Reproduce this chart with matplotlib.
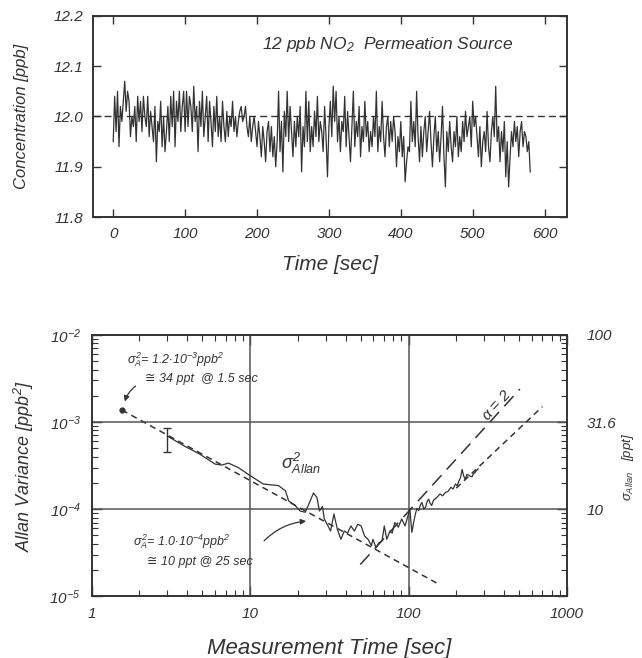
import numpy as np
import matplotlib
matplotlib.use("Agg")
import matplotlib.pyplot as plt
from matplotlib.ticker import FixedLocator, NullLocator, LogLocator, FuncFormatter

plt.rcParams['font.family'] = ['Liberation Sans', 'DejaVu Sans']
plt.rcParams['font.style'] = 'italic'
plt.rcParams['mathtext.fontset'] = 'custom'
plt.rcParams['mathtext.it'] = 'Liberation Sans:italic'
plt.rcParams['mathtext.rm'] = 'Liberation Sans:italic'
plt.rcParams['mathtext.default'] = 'it'

INK = '#333333'

# top panel: concentration record, one reading every 2 s
conc = [
    11.95, 12.04, 11.97, 12.05, 11.94, 12.02, 11.99, 12.03, 12.07, 12.01,
    12.05, 12.03, 11.96, 12.00, 11.98, 12.02, 11.95, 12.04, 11.99, 12.03,
    11.97, 12.04, 12.00, 11.98, 12.04, 11.96, 12.01, 11.98, 11.95, 12.02,
    11.91, 11.99, 11.97, 12.03, 11.94, 12.00, 11.93, 11.97, 12.02, 11.95,
    12.04, 11.98, 12.05, 11.94, 12.03, 11.99, 12.05, 11.97, 12.02, 12.05,
    11.97, 12.05, 11.98, 12.04, 12.02, 11.97, 12.06, 11.99, 12.02, 11.93,
    12.03, 11.98, 12.05, 11.96, 12.00, 12.04, 11.95, 12.03, 11.99, 11.94,
    12.02, 11.97, 12.04, 11.96, 12.00, 11.95, 12.03, 11.98, 11.95, 12.01,
    11.96, 12.00, 11.98, 12.03, 11.97, 12.00, 11.96, 11.99, 12.01, 12.02,
    11.99, 12.00, 12.02, 11.98, 11.96, 12.00, 11.95, 11.98, 12.00, 11.97,
    11.94, 11.99, 11.96, 11.92, 11.98, 11.95, 11.91, 11.97, 11.99, 11.93,
    11.98, 11.92, 11.96, 11.90, 11.95, 12.05, 11.93, 11.99, 11.89, 12.01,
    11.96, 12.05, 11.95, 12.02, 11.97, 11.92, 11.99, 11.94, 12.00, 11.96,
    12.02, 11.89, 11.98, 11.94, 12.05, 11.95, 12.03, 11.93, 11.98, 11.94,
    12.01, 11.96, 12.04, 11.95, 11.99, 11.97, 11.93, 12.02, 11.96, 11.88,
    11.98, 12.03, 11.96, 12.06, 11.99, 12.05, 11.95, 12.00, 11.93, 11.99,
    11.97, 12.04, 11.94, 12.01, 11.96, 11.91, 11.98, 12.05, 11.94, 11.99,
    11.96, 12.02, 11.92, 11.98, 11.95, 12.03, 11.96, 11.99, 11.93, 11.97,
    11.94, 12.00, 11.96, 12.05, 11.93, 11.98, 11.95, 12.03, 11.96, 11.92,
    11.98, 12.00, 11.94, 11.99, 11.95, 12.00, 11.97, 11.90, 11.96, 11.93,
    11.99, 11.92, 11.96, 11.87, 11.91, 11.94, 11.93, 12.03, 11.95, 11.99,
    11.94, 12.05, 11.96, 11.91, 11.98, 11.92, 11.97, 12.00, 11.93, 11.97,
    12.01, 11.95, 11.90, 11.96, 12.00, 11.93, 11.97, 11.91, 11.96, 12.02,
    11.92, 11.86, 11.97, 11.93, 11.99, 11.94, 11.91, 11.97, 11.94, 12.00,
    11.92, 11.96, 11.93, 11.99, 11.95, 12.01, 11.96, 11.98, 12.00, 11.94,
    12.03, 11.98, 12.00, 11.96, 11.92, 11.98, 11.90, 11.95, 11.97, 11.93,
    12.01, 11.94, 11.91, 11.97, 12.00, 11.96, 12.06, 11.95, 11.98, 11.91,
    11.97, 11.93, 11.99, 11.88, 11.95, 11.86, 11.92, 11.97, 11.94, 11.99,
    11.95, 11.98, 11.92, 11.97, 11.99, 11.94, 11.97, 11.96, 11.93, 11.95,
    11.89,
]
t = np.arange(len(conc)) * 2.0
nominal = 12.0

# bottom panel: Allan variance vs averaging time
tau = [3.0, 3.8, 4.8, 6.0, 6.6, 7.3, 8.4, 10, 12.1, 15.1, 16.7, 17.5, 19.3,
       20.7, 22.3, 23.7, 25.1, 26.4, 27.4, 28.6, 29.4, 30.6, 32.2, 33.8,
       35.5, 37.4, 39.3, 41.2, 43.3, 45.5, 47.8, 50.2, 52.8, 55.5, 58.3,
       59.6, 62.4, 64.9, 68.0, 70.3, 72.9, 76.4, 78.8, 81.9, 86.3, 90.5,
       95.1, 100, 102, 105, 108, 110.5, 113, 116, 119, 121.6, 125, 128, 131,
       134, 137, 140, 144, 147, 152, 158, 164, 171, 178, 185, 191, 198, 203,
       208, 213, 218, 223, 228, 234, 240, 246, 252, 257, 262, 268, 275]
avar = [6.9e-4, 5.35e-4, 4.28e-4, 3.29e-4, 3.2e-4, 3.37e-4, 3.0e-4, 2.42e-4,
        1.94e-4, 1.86e-4, 1.62e-4, 1.24e-4, 1.09e-4, 9.5e-5, 9.2e-5, 1.19e-4,
        1.53e-4, 1.36e-4, 9.5e-5, 1.07e-4, 7.7e-5, 6.7e-5, 5.6e-5, 8.8e-5,
        5.9e-5, 4.5e-5, 5.6e-5, 5.3e-5, 6.4e-5, 5.6e-5, 6.7e-5, 6.4e-5,
        4.9e-5, 4.5e-5, 3.8e-5, 4.5e-5, 3.6e-5, 4.1e-5, 4.3e-5, 6.4e-5,
        4.5e-5, 5.6e-5, 5.3e-5, 7.0e-5, 6.2e-5, 7.7e-5, 6.4e-5, 8.8e-5,
        1.0e-4, 5.4e-5, 7.2e-5, 8.8e-5, 1.02e-4, 9.6e-5, 1.12e-4, 1.19e-4,
        1.0e-4, 1.05e-4, 1.22e-4, 1.3e-4, 1.16e-4, 1.1e-4, 1.27e-4, 1.3e-4,
        1.38e-4, 1.49e-4, 1.42e-4, 1.55e-4, 1.6e-4, 1.78e-4, 1.7e-4, 1.94e-4,
        1.85e-4, 2.1e-4, 2.3e-4, 2.85e-4, 2.4e-4, 2.2e-4, 2.5e-4, 2.45e-4,
        2.38e-4, 2.35e-4, 2.55e-4, 2.6e-4, 2.75e-4, 2.9e-4]
err_tau = 3.0
err_lo, err_hi = 4.5e-4, 8.6e-4

white_tau = [1.55, 150]
white_avar = [1.37e-3, 1.42e-5]
drift_tau = [49.6, 505]
drift_avar = [2.31e-5, 2.39e-3]
slope_tau = [200, 700]
slope_avar = [1.74e-4, 1.5e-3]
start_tau, start_avar = 1.55, 1.37e-3

right_ticks = [3.16, 10, 31.6, 100]
right_labels = ['3.16', '10', '31.6', '100']

fig = plt.figure(figsize=(6.42, 6.58), dpi=100)

# ---------------- top panel
ax1 = fig.add_axes([0.145, 0.670, 0.738, 0.306])
ax1.plot(t, conc, color=INK, lw=0.9)
ax1.axhline(nominal, color=INK, lw=1.0, ls=(0, (5, 3)))
ax1.set_xlim(-28, 631)
ax1.set_ylim(11.8, 12.2)
ax1.set_xticks(np.arange(0, 601, 100))
ax1.set_yticks([11.8, 11.9, 12.0, 12.1, 12.2])
ax1.yaxis.set_major_formatter(FuncFormatter(lambda v, p: f'{v:.1f}'))
ax1.tick_params(direction='in', top=True, right=True, length=6, width=1,
                labelsize=11, colors=INK, pad=7)
ax1.set_xlabel('Time [sec]', fontsize=15, color=INK, labelpad=10)
ax1.set_ylabel('Concentration [ppb]', fontsize=12, color=INK, labelpad=18)
ax1.text(382, 12.142, r'12 ppb NO$_2$  Permeation Source', fontsize=12.5,
         color=INK, ha='center', va='center')
for s in ax1.spines.values():
    s.set_linewidth(1.4)
    s.set_color(INK)

# ---------------- bottom panel
ax2 = fig.add_axes([0.143, 0.094, 0.740, 0.397])
ax2.set_xscale('log')
ax2.set_yscale('log')
ax2.set_xlim(1, 1000)
ax2.set_ylim(1e-5, 1e-2)
for v in [10, 100]:
    ax2.axvline(v, color='#555555', lw=1.1)
for v in [1e-3, 1e-4]:
    ax2.axhline(v, color='#555555', lw=1.1)

ax2.plot(tau, avar, color=INK, lw=0.9)
ax2.errorbar([err_tau], [np.sqrt(err_lo * err_hi)],
             yerr=[[np.sqrt(err_lo * err_hi) - err_lo], [err_hi - np.sqrt(err_lo * err_hi)]],
             fmt='none', ecolor=INK, elinewidth=1.0, capsize=3)
ax2.plot(white_tau, white_avar, color=INK, lw=1.1, ls=(0, (4, 3)))
ax2.plot(drift_tau, drift_avar, color=INK, lw=1.1, ls=(0, (9, 5)))
ax2.plot(slope_tau, slope_avar, color=INK, lw=1.1, ls=(0, (4, 3)))
ax2.plot([start_tau], [start_avar], 'o', color=INK, ms=3.5)

ax2.xaxis.set_major_locator(FixedLocator([1, 10, 100, 1000]))
ax2.xaxis.set_major_formatter(FuncFormatter(lambda v, p: f'{v:g}'))
ax2.yaxis.set_major_locator(FixedLocator([1e-5, 1e-4, 1e-3, 1e-2]))
ax2.yaxis.set_major_formatter(
    FuncFormatter(lambda v, p: r'10$^{%d}$' % int(round(np.log10(v)))))
ax2.xaxis.set_minor_locator(LogLocator(base=10, subs=np.arange(2, 10)))
ax2.yaxis.set_minor_locator(LogLocator(base=10, subs=np.arange(2, 10)))
ax2.xaxis.set_minor_formatter(plt.NullFormatter())
ax2.yaxis.set_minor_formatter(plt.NullFormatter())
ax2.tick_params(which='major', direction='in', top=True, right=True,
                length=7, width=1, labelsize=11, colors=INK, pad=8)
ax2.tick_params(which='minor', direction='in', top=True, right=True,
                length=4, width=0.8, colors=INK)
ax2.set_xlabel('Measurement Time [sec]', fontsize=16, color=INK, labelpad=12)
ax2.set_ylabel(r'Allan Variance [ppb$^2$]', fontsize=13, color=INK, labelpad=10)
for s in ax2.spines.values():
    s.set_linewidth(1.4)
    s.set_color(INK)

sec = ax2.secondary_yaxis('right', functions=(lambda v: np.sqrt(np.abs(v)) * 1000,
                                              lambda s: (s / 1000.0) ** 2))
sec.yaxis.set_major_locator(FixedLocator(right_ticks))
sec.yaxis.set_minor_locator(NullLocator())
sec.set_yticklabels(right_labels)
sec.tick_params(length=0, labelsize=11, colors=INK, pad=14)
sec.spines['right'].set_visible(False)
fig.text(0.978, 0.29, r'$\sigma_{Allan}$   [ppt]', fontsize=9.5, color=INK,
         rotation=90, ha='center', va='center')

ax2.text(1.67, 5.2e-3, r'$\sigma_A^2$= 1.2$\cdot$10$^{-3}$ppb$^2$',
         fontsize=9, color=INK, ha='left', va='center')
ax2.text(2.16, 3.1e-3, '≅ 34 ppt  @ 1.5 sec', fontsize=9, color=INK,
         ha='left', va='center')
ax2.annotate('', xy=(1.6, 1.6e-3), xytext=(1.95, 2.7e-3),
             arrowprops=dict(arrowstyle='-|>', color=INK, lw=0.9,
                             connectionstyle='arc3,rad=0.2', mutation_scale=8))

ax2.text(1.82, 4.2e-5, r'$\sigma_A^2$= 1.0$\cdot$10$^{-4}$ppb$^2$',
         fontsize=9, color=INK, ha='left', va='center')
ax2.text(2.23, 2.46e-5, '≅ 10 ppt @ 25 sec', fontsize=9, color=INK,
         ha='left', va='center')
ax2.annotate('', xy=(23.5, 7.3e-5), xytext=(11.9, 4.1e-5),
             arrowprops=dict(arrowstyle='-|>', color=INK, lw=0.9,
                             connectionstyle='arc3,rad=-0.2', mutation_scale=8))

ax2.text(21, 3.3e-4, r'$\sigma^2_{Allan}$', fontsize=13, color=INK,
         ha='center', va='center')
ax2.text(360, 1.55e-3, r'$\alpha$ = 2', fontsize=11, color=INK,
         ha='center', va='center', rotation=48, rotation_mode='anchor')

fig.savefig('out.png', dpi=100)
